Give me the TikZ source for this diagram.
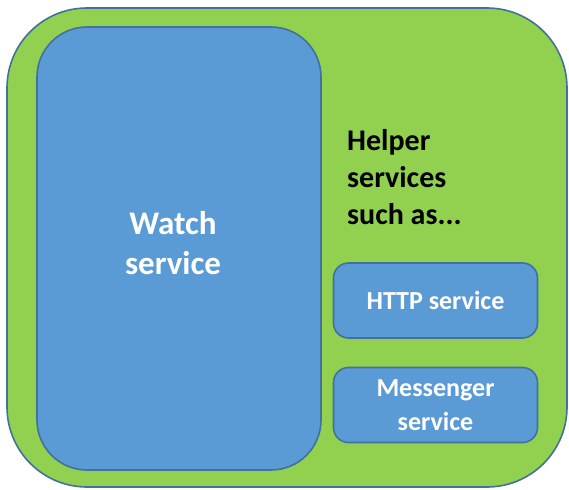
\documentclass[tikz,border=0pt]{standalone}
\usepackage{fontspec}
\setmainfont{Carlito}
\usepackage{tikz}

\definecolor{devgreen}{HTML}{92D050}
\definecolor{svcblue}{HTML}{5B9BD5}
\definecolor{edgeblue}{HTML}{41719C}

\begin{document}
\begin{tikzpicture}[x=1pt,y=-1pt]
        \tikzstyle{outer} = [draw=edgeblue,fill=devgreen,line width=1.6pt,rounded corners=80pt]
        \tikzstyle{svc} = [draw=edgeblue,fill=svcblue,line width=1.6pt]
        \tikzstyle{label} = [font=\bfseries,align=center,text=white,inner sep=0pt]
        \useasboundingbox (0,0) rectangle (569,489);

        \node[outer,minimum width=560pt,minimum height=479pt] (device) at (287,247.5) {};
        \node[svc,rounded corners=50pt,minimum width=284pt,minimum height=443pt] (watch) at (179,248.5) {};
        \node[label,font=\bfseries\fontsize{33}{40}\selectfont] (watchtxt) at (173,243) {Watch\\service};

        \node[label,text=black,align=left,anchor=north west,
          font=\bfseries\fontsize{30}{37}\selectfont] (helper) at (347,129) {Helper\\services\\such as...};

        \foreach \l/\y/\t in {http/300.5/{HTTP service}, msg/405/{Messenger\\service}} {
          \node[svc,rounded corners=15pt,minimum width=204pt,minimum height=75pt] (\l) at (435.5,\y) {};
          \node[label,font=\bfseries\fontsize{26}{34}\selectfont] (\l txt) at (\l) {\t};
        }
\end{tikzpicture}
\end{document}
